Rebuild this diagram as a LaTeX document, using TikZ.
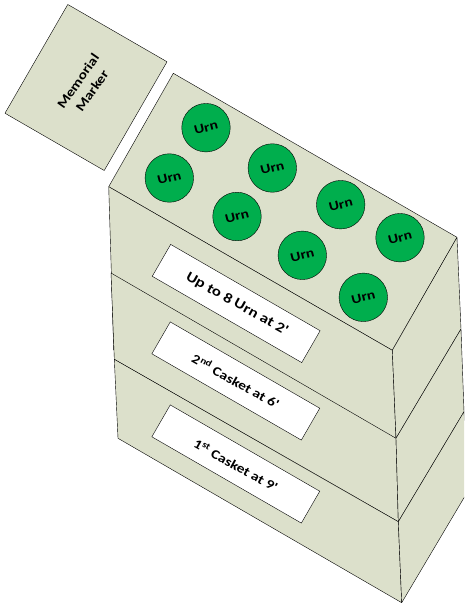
\documentclass[tikz,border=0pt]{standalone}
\usepackage{fontspec}
\setmainfont{Carlito}
\newfontfamily\labelfont[FakeStretch=1.2]{Carlito}
\usepackage{tikz}
\tikzset{x=1pt,y=-1pt,line width=0.6pt,
  slab/.style={draw=black,fill=slabgreen,line join=round},
  plate/.style={draw=black,fill=white,rotate=-30,minimum width=172.6pt,minimum height=36.8pt,inner sep=0pt},
  platetext/.style={font=\labelfont\bfseries\fontsize{13}{13}\selectfont,rotate=-29,inner sep=0pt},
  urn/.style={draw=black,fill=urngreen,circle,minimum size=48.5pt,inner sep=0pt,font=\labelfont\bfseries\fontsize{13}{13}\selectfont}}
\definecolor{slabgreen}{HTML}{DCE0CB}
\definecolor{urngreen}{HTML}{00AE4D}

\begin{document}
\begin{tikzpicture}
\useasboundingbox (0,0) rectangle (464,605);
\clip (0,0) rectangle (464,605);
\coordinate (topback) at (173.3,73.3);
\coordinate (topleft) at (108.7,186.7);
\coordinate (topfront) at (392.3,350.3);
\coordinate (topright) at (457,237.3);
\coordinate (upperleft) at (113.7,350);
\coordinate (upperfront) at (396,438.3);
\coordinate (upperright) at (461,329);
\coordinate (midleft) at (111,273);
\coordinate (midfront) at (398.3,521.7);
\coordinate (midright) at (464,411.7);
\coordinate (lowleft) at (114.3,359.3);
\coordinate (baseleft) at (118,438.3);
\coordinate (basefront) at (401.7,602.7);
\coordinate (baseright) at (468,491);

% top box
\draw[slab] (topback) -- (topright) -- (topfront) -- (topleft) -- cycle;
\draw[slab] (topleft) -- (topfront) -- (upperfront) -- (upperleft) -- cycle;
\draw[slab] (topfront) -- (topright) -- (upperright) -- (upperfront) -- cycle;
% middle box
\draw[slab] (midleft) -- (upperfront) -- (midfront) -- (lowleft) -- cycle;
\draw[slab] (upperfront) -- (upperright) -- (midright) -- (midfront) -- cycle;
% bottom box
\draw[slab] (lowleft) -- (midfront) -- (basefront) -- (baseleft) -- cycle;
\draw[slab] (midfront) -- (midright) -- (baseright) -- (basefront) -- cycle;

\node[slab,rotate=-30,minimum width=114.6pt,minimum height=125.6pt] (marker) at (86,87.5) {};
\node[font=\labelfont\bfseries\fontsize{13}{17}\selectfont,align=center,rotate=55,inner sep=0pt] (markertext) at (85,86) {Memorial\\Marker};

\node[urn] (urn1) at (206,127.7) {\rotatebox{14}{Urn}};
\node[urn] (urn2) at (169.3,178) {\rotatebox{14}{Urn}};
\node[urn] (urn3) at (272.3,168) {\rotatebox{14}{Urn}};
\node[urn] (urn4) at (237,216.5) {\rotatebox{14}{Urn}};
\node[urn] (urn5) at (340.7,204.7) {\rotatebox{14}{Urn}};
\node[urn] (urn6) at (302.3,255.3) {\rotatebox{14}{Urn}};
\node[urn] (urn7) at (400,237.7) {\rotatebox{14}{Urn}};
\node[urn] (urn8) at (363.3,297.3) {\rotatebox{14}{Urn}};

\node[plate] (plate1) at (236.2,303.5) {};
\node[plate] (plate2) at (235.8,381) {};
\node[plate] (plate3) at (235.8,464) {};
\node[platetext,font=\labelfont\bfseries\fontsize{14}{14}\selectfont] (text1) at (237,304) {Up to 8 Urn at 2'};
\node[platetext] (text2) at (236,381) {2\textsuperscript{nd} Casket at 6'};
\node[platetext] (text3) at (236,465) {1\textsuperscript{st} Casket at 9'};
\end{tikzpicture}
\end{document}
